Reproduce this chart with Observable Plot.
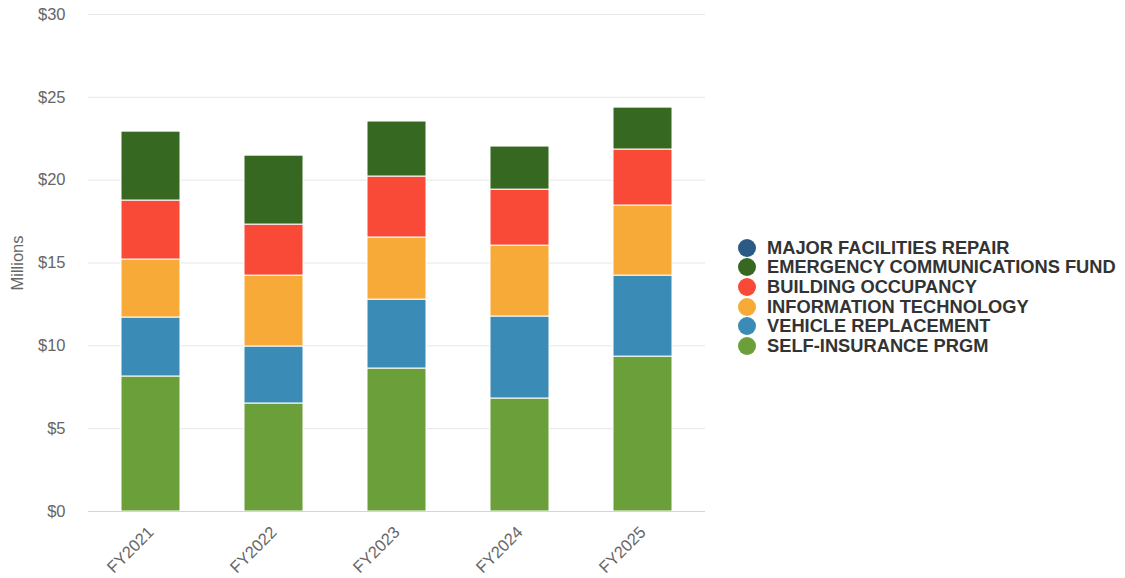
<!DOCTYPE html>
<html>
<head>
<meta charset="utf-8">
<script src="https://cdn.jsdelivr.net/npm/d3@7"></script>
<script src="https://cdn.jsdelivr.net/npm/@observablehq/plot@0.6"></script>
<style>
  html, body { margin: 0; padding: 0; background: #fff; }
  body { width: 1125px; height: 578px; position: relative; overflow: hidden; font-family: "Liberation Sans", Arial, Helvetica, sans-serif; }
  #chart { position: absolute; left: 0; top: 0; }
  #legend { position: absolute; left: 738px; top: 238px; }
  .item { display: flex; align-items: center; height: 19.6px; font-weight: bold; font-size: 18.3px; color: #333; white-space: nowrap; }
  .dot { width: 18px; height: 18px; border-radius: 50%; margin-right: 11px; flex: none; }
</style>
</head>
<body>
<div id="chart"></div>
<div id="legend"></div>
<script>
const categories = ["FY2021", "FY2022", "FY2023", "FY2024", "FY2025"];
const seriesNames = [
  "SELF-INSURANCE PRGM",
  "VEHICLE REPLACEMENT",
  "INFORMATION TECHNOLOGY",
  "BUILDING OCCUPANCY",
  "EMERGENCY COMMUNICATIONS FUND",
  "MAJOR FACILITIES REPAIR"
];
const seriesColors = ["#6a9f3a", "#3b8bb7", "#f7aa37", "#f94a38", "#376821", "#2b5b84"];
const selfInsurance = [8.15, 6.52, 8.63, 6.82, 9.35];
const vehicleReplacement = [3.56, 3.44, 4.16, 4.95, 4.89];
const informationTechnology = [3.50, 4.28, 3.75, 4.28, 4.23];
const buildingOccupancy = [3.56, 3.08, 3.68, 3.38, 3.38];
const emergencyCommunications = [4.16, 4.16, 3.32, 2.60, 2.53];
const majorFacilities = [0, 0, 0, 0, 0];
const yTicks = [0, 5, 10, 15, 20, 25, 30];
const yTitle = "Millions";

const seriesValues = [selfInsurance, vehicleReplacement, informationTechnology, buildingOccupancy, emergencyCommunications, majorFacilities];
const data = [];
seriesNames.forEach((s, si) => {
  categories.forEach((c, ci) => data.push({category: c, series: s, value: seriesValues[si][ci]}));
});

const plot = Plot.plot({
  width: 720,
  height: 578,
  marginLeft: 88,
  marginRight: 15,
  marginTop: 14,
  marginBottom: 67,
  style: {fontFamily: '"Liberation Sans", Arial, sans-serif', fontSize: "16.5px", color: "#666", background: "#fff"},
  x: {domain: categories, paddingInner: 0.52, paddingOuter: 0.26, label: null},
  y: {domain: [0, 30], label: null},
  color: {domain: seriesNames, range: seriesColors},
  marks: [
    Plot.gridY(yTicks, {stroke: "#e6e6e6", strokeOpacity: 1}),
    Plot.axisY(yTicks, {tickSize: 0, tickPadding: 23, tickFormat: d => "$" + d, fill: "#666", label: null}),
    Plot.text([yTitle], {frameAnchor: "left", textAnchor: "middle", rotate: -90, dx: -71, fill: "#666", fontSize: 16.5}),
    Plot.axisX({tickSize: 0, tickRotate: -45, tickPadding: 18, fill: "#666", fontSize: 16.5, label: null}),
    Plot.barY(data, Plot.stackY({x: "category", y: "value", fill: "series", stroke: "#fff", strokeWidth: 1})),
    Plot.ruleY([0], {stroke: "#ccd6eb", strokeWidth: 1})
  ]
});
document.getElementById("chart").appendChild(plot);

const legend = document.getElementById("legend");
seriesNames.slice().reverse().forEach((s) => {
  const i = seriesNames.indexOf(s);
  const row = document.createElement("div");
  row.className = "item";
  const dot = document.createElement("span");
  dot.className = "dot";
  dot.style.background = seriesColors[i];
  row.appendChild(dot);
  row.appendChild(document.createTextNode(s));
  legend.appendChild(row);
});
</script>
</body>
</html>
